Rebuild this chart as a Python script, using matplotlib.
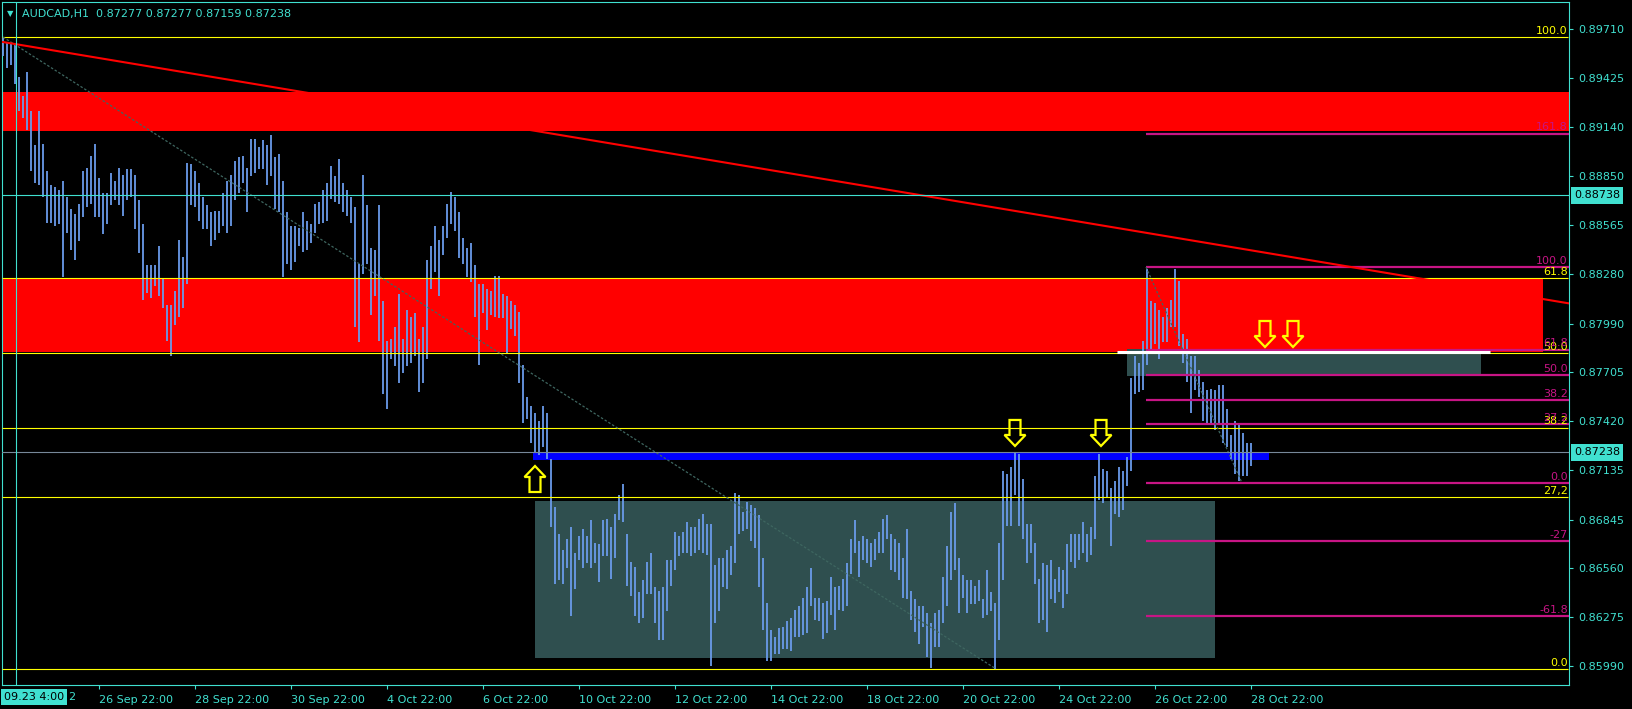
import matplotlib
matplotlib.use("Agg")
import matplotlib.pyplot as plt
from matplotlib.patches import Rectangle, Polygon
from matplotlib import transforms

# ---- AUDCAD H1, one entry per 2 hourly bars (high / low) ----
highs = [
    0.8966, 0.8963, 0.8962, 0.8962, 0.8943, 0.8932, 0.8946, 0.8923, 0.8903, 0.8923,
    0.8904, 0.8888, 0.8880, 0.8879, 0.8877, 0.8882, 0.8873, 0.8866, 0.8863, 0.8869,
    0.8888, 0.8890, 0.8897, 0.8904, 0.8884, 0.8875, 0.8875, 0.8887, 0.8882, 0.8890,
    0.8886, 0.8889, 0.8889, 0.8886, 0.8871, 0.8857, 0.8833, 0.8833, 0.8833, 0.8844,
    0.8825, 0.8810, 0.8810, 0.8818, 0.8848, 0.8838, 0.8893, 0.8892, 0.8888, 0.8881,
    0.8873, 0.8868, 0.8864, 0.8865, 0.8865, 0.8875, 0.8882, 0.8886, 0.8894, 0.8896,
    0.8897, 0.8890, 0.8907, 0.8907, 0.8902, 0.8906, 0.8903, 0.8909, 0.8896, 0.8898,
    0.8882, 0.8864, 0.8856, 0.8856, 0.8855, 0.8864, 0.8859, 0.8857, 0.8869, 0.8870,
    0.8877, 0.8881, 0.8891, 0.8885, 0.8895, 0.8881, 0.8877, 0.8873, 0.8867, 0.8834,
    0.8886, 0.8868, 0.8843, 0.8842, 0.8868, 0.8812, 0.8789, 0.8790, 0.8797, 0.8816,
    0.8790, 0.8807, 0.8803, 0.8805, 0.8790, 0.8797, 0.8836, 0.8844, 0.8856, 0.8848,
    0.8856, 0.8869, 0.8876, 0.8873, 0.8864, 0.8849, 0.8843, 0.8846, 0.8833, 0.8822,
    0.8822, 0.8819, 0.8818, 0.8827, 0.8827, 0.8816, 0.8815, 0.8812, 0.8810, 0.8806,
    0.8775, 0.8756, 0.8751, 0.8747, 0.8742, 0.8751, 0.8747, 0.8720, 0.8692, 0.8676,
    0.8667, 0.8673, 0.8680, 0.8665, 0.8675, 0.8679, 0.8675, 0.8684, 0.8671, 0.8670,
    0.8684, 0.8685, 0.8680, 0.8688, 0.8699, 0.8705, 0.8676, 0.8660, 0.8657, 0.8642,
    0.8649, 0.8660, 0.8665, 0.8645, 0.8643, 0.8645, 0.8661, 0.8661, 0.8677, 0.8675,
    0.8677, 0.8683, 0.8680, 0.8680, 0.8685, 0.8688, 0.8682, 0.8682, 0.8658, 0.8662,
    0.8662, 0.8667, 0.8669, 0.8700, 0.8699, 0.8689, 0.8695, 0.8693, 0.8691, 0.8687,
    0.8662, 0.8636, 0.8620, 0.8616, 0.8621, 0.8622, 0.8625, 0.8627, 0.8632, 0.8634,
    0.8639, 0.8645, 0.8656, 0.8639, 0.8639, 0.8636, 0.8637, 0.8651, 0.8645, 0.8646,
    0.8650, 0.8659, 0.8673, 0.8684, 0.8672, 0.8675, 0.8673, 0.8671, 0.8673, 0.8677,
    0.8685, 0.8687, 0.8676, 0.8673, 0.8671, 0.8662, 0.8679, 0.8643, 0.8638, 0.8634,
    0.8634, 0.8630, 0.8624, 0.8630, 0.8632, 0.8651, 0.8669, 0.8689, 0.8694, 0.8662,
    0.8652, 0.8649, 0.8649, 0.8646, 0.8649, 0.8638, 0.8655, 0.8642, 0.8636, 0.8671,
    0.8713, 0.8711, 0.8715, 0.8724, 0.8723, 0.8708, 0.8682, 0.8682, 0.8671, 0.8650,
    0.8659, 0.8658, 0.8661, 0.8650, 0.8657, 0.8655, 0.8670, 0.8676, 0.8676, 0.8676,
    0.8683, 0.8676, 0.8680, 0.8710, 0.8723, 0.8714, 0.8713, 0.8703, 0.8707, 0.8715,
    0.8713, 0.8721, 0.8767, 0.8780, 0.8776, 0.8789, 0.8831, 0.8812, 0.8811, 0.8807,
    0.8803, 0.8808, 0.8813, 0.8831, 0.8824, 0.8793, 0.8790, 0.8780, 0.8780, 0.8772,
    0.8765, 0.8760, 0.8761, 0.8760, 0.8763, 0.8763, 0.8749, 0.8734, 0.8742, 0.8740,
    0.8735, 0.8729, 0.8729,
]
lows = [
    0.8955, 0.8948, 0.8950, 0.8939, 0.8923, 0.8919, 0.8912, 0.8888, 0.8881, 0.8880,
    0.8873, 0.8858, 0.8858, 0.8856, 0.8857, 0.8826, 0.8852, 0.8842, 0.8836, 0.8847,
    0.8861, 0.8867, 0.8869, 0.8861, 0.8861, 0.8851, 0.8857, 0.8868, 0.8871, 0.8868,
    0.8862, 0.8871, 0.8873, 0.8854, 0.8840, 0.8813, 0.8817, 0.8814, 0.8821, 0.8815,
    0.8808, 0.8789, 0.8780, 0.8798, 0.8803, 0.8808, 0.8822, 0.8868, 0.8867, 0.8859,
    0.8854, 0.8854, 0.8844, 0.8848, 0.8852, 0.8856, 0.8852, 0.8856, 0.8871, 0.8875,
    0.8881, 0.8864, 0.8885, 0.8887, 0.8889, 0.8889, 0.8880, 0.8885, 0.8866, 0.8864,
    0.8826, 0.8834, 0.8830, 0.8835, 0.8844, 0.8841, 0.8842, 0.8846, 0.8852, 0.8857,
    0.8858, 0.8859, 0.8872, 0.8870, 0.8869, 0.8864, 0.8862, 0.8858, 0.8797, 0.8788,
    0.8828, 0.8834, 0.8804, 0.8815, 0.8789, 0.8758, 0.8749, 0.8778, 0.8774, 0.8764,
    0.8770, 0.8774, 0.8776, 0.8780, 0.8759, 0.8764, 0.8778, 0.8819, 0.8829, 0.8815,
    0.8839, 0.8849, 0.8857, 0.8853, 0.8837, 0.8834, 0.8826, 0.8823, 0.8803, 0.8775,
    0.8805, 0.8795, 0.8804, 0.8803, 0.8802, 0.8802, 0.8782, 0.8796, 0.8792, 0.8764,
    0.8741, 0.8743, 0.8729, 0.8724, 0.8722, 0.8727, 0.8720, 0.8680, 0.8647, 0.8649,
    0.8647, 0.8656, 0.8628, 0.8644, 0.8661, 0.8656, 0.8659, 0.8656, 0.8659, 0.8648,
    0.8663, 0.8663, 0.8650, 0.8662, 0.8684, 0.8683, 0.8646, 0.8640, 0.8628, 0.8624,
    0.8627, 0.8641, 0.8641, 0.8624, 0.8614, 0.8614, 0.8631, 0.8646, 0.8655, 0.8663,
    0.8665, 0.8665, 0.8663, 0.8665, 0.8667, 0.8665, 0.8664, 0.8599, 0.8624, 0.8631,
    0.8645, 0.8644, 0.8652, 0.8659, 0.8676, 0.8678, 0.8679, 0.8672, 0.8668, 0.8645,
    0.8620, 0.8602, 0.8602, 0.8606, 0.8606, 0.8609, 0.8609, 0.8608, 0.8616, 0.8616,
    0.8617, 0.8618, 0.8634, 0.8626, 0.8625, 0.8615, 0.8618, 0.8629, 0.8620, 0.8632,
    0.8631, 0.8634, 0.8653, 0.8665, 0.8651, 0.8661, 0.8659, 0.8657, 0.8661, 0.8665,
    0.8665, 0.8673, 0.8655, 0.8654, 0.8649, 0.8639, 0.8638, 0.8626, 0.8619, 0.8612,
    0.8622, 0.8604, 0.8598, 0.8610, 0.8610, 0.8624, 0.8634, 0.8649, 0.8655, 0.8630,
    0.8639, 0.8630, 0.8635, 0.8635, 0.8637, 0.8627, 0.8629, 0.8631, 0.8597, 0.8614,
    0.8649, 0.8681, 0.8681, 0.8699, 0.8681, 0.8673, 0.8659, 0.8665, 0.8647, 0.8624,
    0.8626, 0.8619, 0.8638, 0.8636, 0.8642, 0.8633, 0.8641, 0.8660, 0.8656, 0.8661,
    0.8665, 0.8660, 0.8664, 0.8673, 0.8696, 0.8694, 0.8697, 0.8669, 0.8688, 0.8686,
    0.8690, 0.8704, 0.8713, 0.8758, 0.8759, 0.8760, 0.8775, 0.8783, 0.8787, 0.8778,
    0.8788, 0.8788, 0.8797, 0.8797, 0.8786, 0.8776, 0.8765, 0.8747, 0.8760, 0.8756,
    0.8742, 0.8741, 0.8741, 0.8737, 0.8740, 0.8729, 0.8727, 0.8720, 0.8711, 0.8707,
    0.8710, 0.8710, 0.8716,
]

date_labels = ["26 Sep 22:00", "28 Sep 22:00", "30 Sep 22:00", "4 Oct 22:00",
               "6 Oct 22:00", "10 Oct 22:00", "12 Oct 22:00", "14 Oct 22:00",
               "18 Oct 22:00", "20 Oct 22:00", "24 Oct 22:00", "26 Oct 22:00",
               "28 Oct 22:00"]
price_ticks = [0.89710, 0.89425, 0.89140, 0.88850, 0.88565, 0.88280, 0.87990,
               0.87705, 0.87420, 0.87135, 0.86845, 0.86560, 0.86275, 0.85990]

# big (yellow) fibo: 100 at the september high, 0 at the october low
fib1_high, fib1_low, fib1_end_bar = 0.89663, 0.85973, 248.25
fib1_levels = [100.0, 61.8, 50.0, 38.2, 27.2, 0.0]
fib1_texts = ["100.0", "61.8", "50.0", "38.2", "27,2", "0.0"]
# small (magenta) fibo on the last swing
fib2_high, fib2_low, fib2_start_bar, fib2_end_bar = 0.88320, 0.87059, 285.75, 309.75
fib2_levels = [161.8, 100.0, 61.8, 50.0, 38.2, 27.2, 0.0, -27.0, -61.8]
fib2_texts = ["161.8", "100.0", "61.8", "50.0", "38.2", "27.2", "0.0", "-27", "-61.8"]

# zones: (low price, high price, first bar, last bar)
red_zones = [(0.89114, 0.89342, -0.25, 391.5), (0.87824, 0.88250, -0.25, 385.0)]
grey_zones = [(0.86037, 0.86954, 133.0, 303.0), (0.87684, 0.87841, 281.0, 369.5)]
blue_zone = (0.87193, 0.87234, 132.5, 316.5)
white_level = (0.87824, 278.5, 371.75)
trend_pts = [(0.0, 0.89634), (385.0, 0.88133)]
cross_bar, cross_price = 3.25, 0.88738
bid = 0.87238
up_arrows = [(133.0, 0.87158)]
down_arrows = [(253.0, 0.87275), (274.5, 0.87275), (315.5, 0.87853), (322.5, 0.87853)]

CYAN = "#40E0D0"
BARS = "#6A9BEA"
MAG = "#C71585"
YEL = "#FFFF00"

fig = plt.figure(figsize=(16.33, 7.09), dpi=100, facecolor="black")
ax = fig.add_axes([2 / 1633, 24 / 709, 1567 / 1633, 683 / 709])
ax.set_facecolor("black")
ax.set_xlim(-0.25, 391.5)
ax.set_ylim(0.858791, 0.898677)

for lo, hi, b0, b1 in red_zones:
    ax.add_patch(Rectangle((b0, lo), b1 - b0, hi - lo, color="#FF0000", lw=0, zorder=1))
for lo, hi, b0, b1 in grey_zones:
    ax.add_patch(Rectangle((b0, lo), b1 - b0, hi - lo, color="#2F4F4F", lw=0, zorder=1))
lo, hi, b0, b1 = blue_zone
ax.add_patch(Rectangle((b0, lo), b1 - b0, hi - lo, color="#0000FF", lw=0, zorder=1))

bars = range(len(highs))
ax.vlines(bars, lows, highs, colors=BARS, lw=1.3, zorder=3)

# fibo 1
rng1 = fib1_high - fib1_low
for lev, txt in zip(fib1_levels, fib1_texts):
    p = fib1_low + rng1 * lev / 100
    ax.hlines(p, -0.25, 391.25, colors=YEL, lw=0.8, zorder=4)
    ax.text(391.2, p + 0.00008, txt, color=YEL, fontsize=8, ha="right", va="bottom", zorder=6)
ax.plot([0, fib1_end_bar], [fib1_high, fib1_low], color="#3E6660", lw=0.9,
        ls=(0, (2, 1.5)), zorder=4)

# fibo 2
rng2 = fib2_high - fib2_low
for lev, txt in zip(fib2_levels, fib2_texts):
    p = fib2_low + rng2 * lev / 100
    ax.hlines(p, fib2_start_bar, 391.5, colors=MAG, lw=1.6, zorder=4)
    ax.text(391.2, p + 0.00008, txt, color=MAG, fontsize=8, ha="right", va="bottom", zorder=6)
ax.plot([fib2_start_bar, fib2_end_bar], [fib2_high, fib2_low], color="#3E6660", lw=0.9,
        ls=(0, (2, 1.5)), zorder=4)

# trend line, levels, crosshair
(tx0, tp0), (tx1, tp1) = trend_pts
slope = (tp1 - tp0) / (tx1 - tx0)
ax.plot([tx0, 391.5], [tp0, tp0 + slope * (391.5 - tx0)], color="#FF0000", lw=1.5, zorder=4)
ax.hlines(white_level[0], white_level[1], white_level[2], colors="white", lw=2.2, zorder=4)
ax.axhline(bid, color="#778899", lw=0.8, zorder=4)
ax.axhline(cross_price, color=CYAN, lw=0.8, zorder=5)
ax.axvline(cross_bar, color=CYAN, lw=0.8, zorder=5)


def arrow(bar, price, down):
    # hollow wingdings style arrow, tip at (bar, price), outline given in pixels
    outline = [(0, 0), (-10.5, -11), (-5.5, -11), (-5.5, -26), (5.5, -26), (5.5, -11), (10.5, -11)]
    sgn = -1 if down else 1
    pts = [(x / 100, sgn * y / 100) for x, y in outline]
    tr = fig.dpi_scale_trans + transforms.ScaledTranslation(bar, price, ax.transData)
    ax.add_patch(Polygon(pts, closed=True, fill=False, ec=YEL, lw=1.6, transform=tr,
                         zorder=7, clip_on=False))


for b, p in up_arrows:
    arrow(b, p, False)
for b, p in down_arrows:
    arrow(b, p, True)

# axes look
for sp in ax.spines.values():
    sp.set_color(CYAN)
    sp.set_linewidth(0.8)
ax.yaxis.tick_right()
ax.set_yticks(price_ticks)
ax.set_yticklabels([f"{p:.5f}" for p in price_ticks])
ax.set_xticks([24 * (k + 1) for k in range(len(date_labels))])
ax.set_xticklabels(date_labels, ha="left")
ax.tick_params(axis="both", colors=CYAN, labelcolor=CYAN, length=3, width=0.8, labelsize=8)
ax.tick_params(axis="y", pad=4)
ax.tick_params(axis="x", pad=4)

ylab = transforms.blended_transform_factory(ax.transAxes, ax.transData)
for p in [cross_price, bid]:
    ax.text(1.0, p, f"{p:.5f}", transform=ylab + transforms.ScaledTranslation(5 / 100, 0, fig.dpi_scale_trans),
            color="black", fontsize=8, ha="left", va="center", clip_on=False,
            bbox=dict(boxstyle="square,pad=0.3", fc=CYAN, ec="none"))

xlab = transforms.blended_transform_factory(ax.transAxes, ax.transAxes)
ax.text(0.0, 0.0, "2", transform=xlab + transforms.ScaledTranslation(66 / 100, -7 / 100, fig.dpi_scale_trans),
        color=CYAN, fontsize=8, ha="left", va="top", clip_on=False)
ax.text(0.0, 0.0, "09.23 4:00", transform=xlab + transforms.ScaledTranslation(2 / 100, -7 / 100, fig.dpi_scale_trans),
        color="black", fontsize=8, ha="left", va="top", clip_on=False,
        bbox=dict(boxstyle="square,pad=0.25", fc=CYAN, ec="none"))

ax.text(0.0, 1.0, "\u25BC", transform=xlab + transforms.ScaledTranslation(5 / 100, -12 / 100, fig.dpi_scale_trans),
        color=CYAN, fontsize=6, ha="left", va="center")
ax.text(0.0, 1.0, "AUDCAD,H1  0.87277 0.87277 0.87159 0.87238",
        transform=xlab + transforms.ScaledTranslation(20 / 100, -12 / 100, fig.dpi_scale_trans),
        color=CYAN, fontsize=8, ha="left", va="center")

fig.savefig("out.png", dpi=100, facecolor="black")
